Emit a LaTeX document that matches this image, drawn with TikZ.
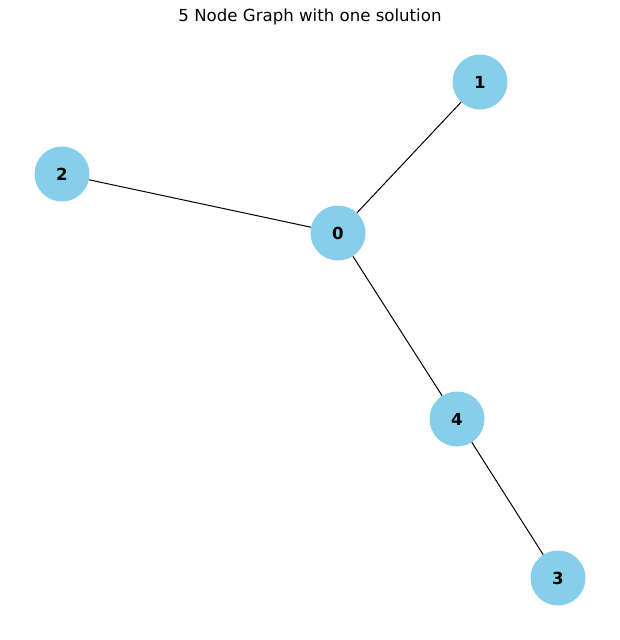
\documentclass[tikz,border=0pt]{standalone}
\usepackage{fontspec}
\setmainfont{DejaVu Sans}
\definecolor{skyblue}{HTML}{87CEEB}
\begin{document}
\begin{tikzpicture}[x=1pt,y=-1pt,
  vertex/.style={circle,fill=skyblue,minimum size=55pt,inner sep=0pt,
    font=\fontsize{16.6}{16.6}\selectfont\bfseries},
  edge/.style={draw=black,line width=1pt}]
  \useasboundingbox (0,0) rectangle (619,640);
  \node[font=\fontsize{16.6}{16.6}\selectfont] (title) at (310,17) {5 Node Graph with one solution};
  \node[vertex] (n0) at (338,233) {0};
  \node[vertex] (n1) at (480,82) {1};
  \node[vertex] (n2) at (62,174) {2};
  \node[vertex] (n3) at (558,578) {3};
  \node[vertex] (n4) at (457,419) {4};
  \draw[edge] (n0) -- (n1);
  \draw[edge] (n0) -- (n2);
  \draw[edge] (n0) -- (n4);
  \draw[edge] (n4) -- (n3);
\end{tikzpicture}
\end{document}
